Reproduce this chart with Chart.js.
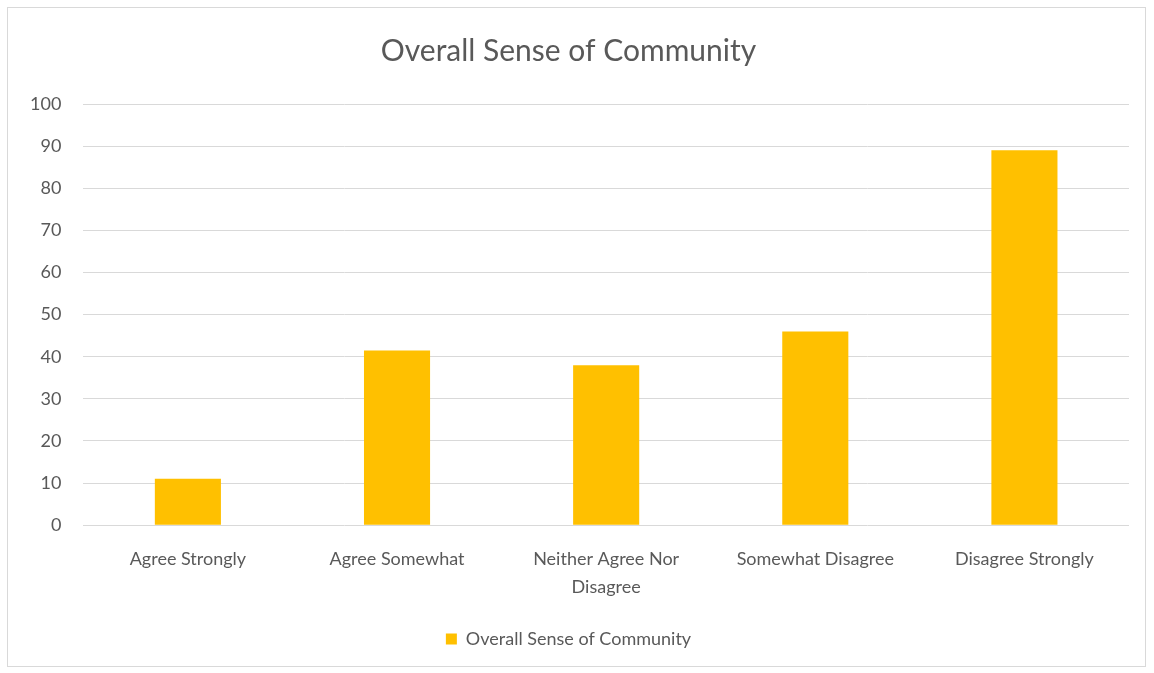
<!DOCTYPE html>
<html>
<head>
<meta charset="utf-8">
<script src="https://cdn.jsdelivr.net/npm/chart.js@4.4.1/dist/chart.umd.min.js"></script>
<style>
  html, body { margin: 0; padding: 0; background: #fff; }
  .frame {
    position: absolute;
    left: 7px; top: 7px;
    width: 1139px; height: 660px;
    border: 1px solid #d9d9d9;
    box-sizing: border-box;
  }
  canvas { display: block; }
</style>
</head>
<body>
<div class="frame"><canvas id="communityChart"></canvas></div>
<script>
// Survey responses
const categories = [
  'Agree Strongly',
  'Agree Somewhat',
  ['Neither Agree Nor', 'Disagree'],
  'Somewhat Disagree',
  'Disagree Strongly'
];
const responses = [11, 41.5, 38, 46, 89];
const seriesName = 'Overall Sense of Community';
const yTicks = [0, 10, 20, 30, 40, 50, 60, 70, 80, 90, 100];

const textColor = '#595959';
const gridColor = '#d9d9d9';
const barColor = '#ffc000';
const fontFamily = "Lato, 'Open Sans', sans-serif";

Chart.defaults.font.family = fontFamily;
Chart.defaults.color = textColor;

new Chart(document.getElementById('communityChart'), {
  type: 'bar',
  data: {
    labels: categories,
    datasets: [{
      label: seriesName,
      data: responses,
      backgroundColor: barColor,
      borderWidth: 0,
      barPercentage: 0.316,
      categoryPercentage: 1.0
    }]
  },
  options: {
    responsive: true,
    maintainAspectRatio: false,
    animation: false,
    layout: { padding: { left: 0, right: 16, top: 10, bottom: 8 } },
    plugins: {
      title: {
        display: true,
        text: seriesName,
        color: textColor,
        font: { size: 30, weight: 'normal' },
        padding: { top: 15, bottom: 35 }
      },
      legend: {
        position: 'bottom',
        labels: {
          color: textColor,
          font: { size: 18 },
          boxWidth: 11,
          boxHeight: 11,
          padding: 17
        }
      },
      tooltip: { enabled: false }
    },
    scales: {
      x: {
        grid: { display: false },
        border: { display: false },
        ticks: {
          color: textColor,
          font: { size: 18, lineHeight: 1.55 },
          maxRotation: 0,
          autoSkip: false,
          padding: 12
        }
      },
      y: {
        min: 0,
        max: 100,
        afterBuildTicks: (axis) => { axis.ticks = yTicks.map(v => ({ value: v })); },
        grid: { color: gridColor, lineWidth: 1, drawTicks: false },
        border: { display: false },
        ticks: {
          color: textColor,
          font: { size: 18 },
          padding: 22
        }
      }
    }
  }
});
</script>
</body>
</html>
